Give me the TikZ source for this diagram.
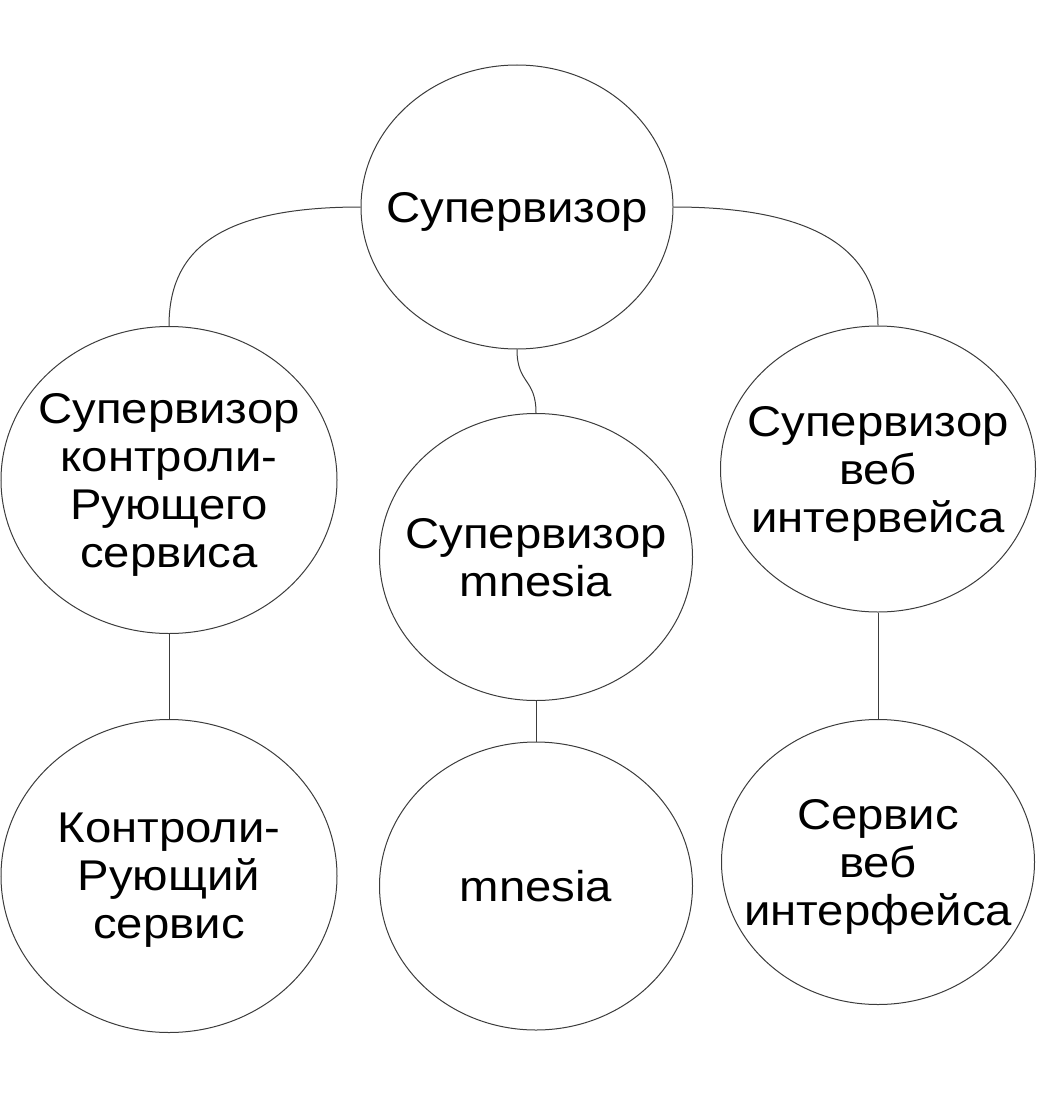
\documentclass[tikz,border=0pt]{standalone}
\usepackage{fontspec}
\setmainfont[FakeStretch=1.1]{Liberation Sans}
\usetikzlibrary{shapes.geometric}
\definecolor{linegray}{RGB}{60,60,60}

\begin{document}
\begin{tikzpicture}[x=1pt, y=-1pt]
	\useasboundingbox (0,0) rectangle (1045,1097);
	\begin{scope} [every node/.style={ellipse, draw=linegray, line width=1pt, inner sep=-30pt, align=center, font=\fontsize{43}{48}\selectfont, text depth=-1pt}]
		\node[minimum width=312pt, minimum height=284pt] (sup) at (517,207){Супервизор};
		\node[minimum width=336pt, minimum height=307pt] (supctl) at (169,480){Супервизор\\контроли-\\Рующего\\сервиса};
		\node[minimum width=313pt, minimum height=287pt] (supmn) at (536,557){Супервизор\\mnesia};
		\node[minimum width=315pt, minimum height=286pt] (supweb) at (878,469){Супервизор\\веб\\интервейса};
		\node[minimum width=336pt, minimum height=313pt] (ctl) at (169,876){Контроли-\\Рующий\\сервис};
		\node[minimum width=313pt, minimum height=288pt] (mn) at (536,886){mnesia};
		\node[minimum width=313pt, minimum height=285pt] (web) at (878,862){Сервис\\веб\\интерфейса};
	\end{scope}
	\draw[linegray, line width=1pt] (sup.west) .. controls +(-150,0) and +(0,-70) .. (supctl.north);
	\draw[linegray, line width=1pt] (sup.east) .. controls +(150,0) and +(0,-70) .. (supweb.north);
	\draw[linegray, line width=1pt] (sup.south) .. controls +(0,35) and +(0,-35) .. (supmn.north);
	\draw[linegray, line width=1pt] (supctl.south) -- (ctl.north);
	\draw[linegray, line width=1pt] (supmn.south) -- (mn.north);
	\draw[linegray, line width=1pt] (supweb.south) -- (web.north);
\end{tikzpicture}
\end{document}
